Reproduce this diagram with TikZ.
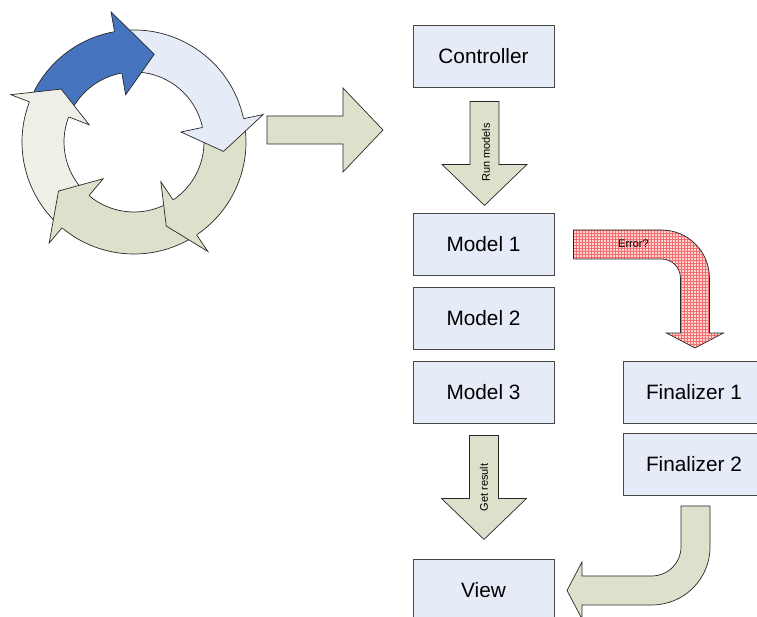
\documentclass[tikz,border=0pt]{standalone}
\usepackage{fontspec}
\setmainfont{Liberation Sans}
\usetikzlibrary{patterns,calc}

\definecolor{boxfill}{RGB}{230,236,247}
\definecolor{boxline}{RGB}{70,70,70}
\definecolor{sage}{RGB}{221,225,204}
\definecolor{offwhite}{RGB}{238,240,231}
\definecolor{ringblue}{RGB}{70,116,190}
\definecolor{paleblue}{RGB}{230,236,247}
\definecolor{errpink}{RGB}{255,212,212}
\definecolor{errgrid}{RGB}{245,110,110}
\definecolor{edge}{RGB}{40,40,40}

% one segment of the ring: colour, start angle, end angle
\newcommand\ringbody[3]{%
  \fill[#1] (#2:112pt) arc[start angle=#2, end angle=#3, radius=112pt]
    -- (#3:70pt) arc[start angle=#3, end angle=#2, radius=70pt] -- cycle;
  \draw[cyc] (#2:112pt) arc[start angle=#2, end angle=#3, radius=112pt];
  \draw[cyc] (#2:70pt) arc[start angle=#2, end angle=#3, radius=70pt];
}
% arrow head of a ring segment: colour, barb angle, tip angle
\newcommand\ringhead[3]{%
  \fill[#1] ({#2+1.5}:111.3pt) -- (#2:111.3pt) -- (#2:132pt) -- (#3:90pt)
    -- (#2:48pt) -- (#2:70.7pt) -- ({#2+1.5}:70.7pt) -- cycle;
  \draw[cyc] (#2:112pt) -- (#2:132pt) -- (#3:90pt) -- (#2:48pt) -- (#2:70pt);
}

\begin{document}
\begin{tikzpicture}[x=1pt,y=-1pt,
  box/.style={draw=boxline, line width=0.9pt, fill=boxfill,
    minimum width=141pt, minimum height=62pt, inner sep=0pt,
    font=\fontsize{20.8}{24}\selectfont},
  blockarrow/.style={draw=edge, line width=0.7pt, fill=sage, line join=miter},
  cyc/.style={draw=edge, line width=0.7pt, line join=miter},
  lbl/.style={font=\fontsize{11}{13}\selectfont, inner sep=0pt},
  pics/downblock/.style={code={
    \draw[blockarrow] (-14.5,0) -- (14.5,0) -- (14.5,63) -- (42.5,63)
      -- (0,104) -- (-42.5,63) -- (-14.5,63) -- cycle;}}]

\useasboundingbox (0,0) rectangle (757,617);
\fill[white] (0,0) rectangle (757,617);
\clip (0,0) rectangle (757,617);

% ---- cycle of five curved arrows ----
\begin{scope}[shift={(134,142)}]
  \ringbody{ringblue}{159}{100}
  \ringbody{paleblue}{100}{12}
  \ringbody{sage}{12}{-56}
  \ringbody{sage}{-56}{-130}
  \ringbody{offwhite}{-130}{-201}
  \ringhead{ringblue}{100}{77}
  \ringhead{paleblue}{12}{-6}
  \ringhead{sage}{-56}{-69}
  \ringhead{sage}{-130}{-147}
  \ringhead{offwhite}{159}{144}
\end{scope}

% ---- big arrow to the right ----
\draw[blockarrow] (267,116) -- (343,116) -- (343,88) -- (383,130)
  -- (343,172) -- (343,144) -- (267,144) -- cycle;

% ---- boxes ----
\node[box] (ctrl) at (483.5,56) {Controller};
\node[box] (m1) at (483.5,244) {Model 1};
\node[box] (m2) at (483.5,318) {Model 2};
\node[box] (m3) at (483.5,392) {Model 3};
\node[box] (fin1) at (694,392) {Finalizer 1};
\node[box] (fin2) at (694,464.5) {Finalizer 2};
\node[box] (view) at (483.5,590) {View};

% ---- straight block arrows ----
\pic at ($(ctrl.south)+(1,14)$) {downblock};
\node[lbl, rotate=90] (runlbl) at ($(ctrl.south)+(2.5,65)$) {Run models};
\pic at ($(m3.south)+(0.5,12)$) {downblock};
\node[lbl, rotate=90] (getlbl) at ($(m3.south)+(0.5,64)$) {Get result};

% ---- bent arrow: error path ----
\coordinate (errstart) at ($(m1.east)+(19,-14)$);
\draw[draw=edge, line width=0.7pt,
      preaction={fill=errpink},
      preaction={pattern=grid, pattern color=errgrid}]
  (errstart) -- ++(88,0) arc[start angle=90, end angle=0, radius=48pt]
  -- ++(0,55) -- ++(14,0) -- ++(-28.5,15) -- ++(-28.5,-15) -- ++(14,0)
  -- ++(0,-55) arc[start angle=0, end angle=90, radius=19pt]
  -- ++(-88,0) -- cycle;
\node[lbl] (errlbl) at ($(m1.east)+(79,0)$) {Error?};

% ---- bent arrow: finalizer back to view ----
\coordinate (finstart) at ($(fin2.south)+(-13,10)$);
\draw[blockarrow]
  (finstart) -- ++(29,0) -- ++(0,41) arc[start angle=0, end angle=-90, radius=58pt]
  -- ++(-70,0) -- ++(0,14) -- ++(-15,-28.5) -- ++(15,-28.5) -- ++(0,14)
  -- ++(70,0) arc[start angle=-90, end angle=0, radius=29pt] -- cycle;

\end{tikzpicture}
\end{document}
